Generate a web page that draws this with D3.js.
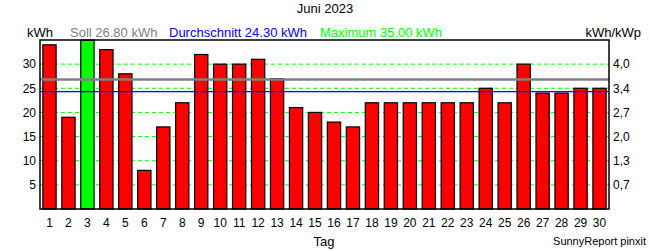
<!DOCTYPE html>
<html lang="de">
<head>
<meta charset="utf-8">
<title>Juni 2023</title>
<script src="https://d3js.org/d3.v7.min.js"></script>
<style>
  body { margin: 0; background: #fff; }
  text { font-family: "Liberation Sans", Arial, sans-serif; font-size: 12px; }
  .head { font-size: 13px; }
</style>
</head>
<body>
<script>
// data
var days = d3.range(1, 31);
var yields = [34, 19, 35, 33, 28, 8, 17, 22, 32, 30, 30, 31, 27, 21, 20, 18, 17, 22, 22, 22,
              22, 22, 22, 25, 22, 30, 24, 24, 25, 25];
var leftTicks = [5, 10, 15, 20, 25, 30];
var rightTickLabels = ["0,7", "1,3", "2,0", "2,7", "3,4", "4,0"];
var soll = 26.8, avg = 24.3, maxVal = 35;

var width = 650, height = 250,
    margin = {top: 40, right: 41, bottom: 41, left: 40},
    plotW = width - margin.left - margin.right,
    plotH = height - margin.top - margin.bottom;

var svg = d3.select("body").append("svg")
    .attr("width", width)
    .attr("height", height);

var x = d3.scaleBand()
    .domain(days)
    .range([margin.left, margin.left + plotW])
    .paddingInner(0.3)
    .paddingOuter(0.15);

var y = d3.scaleLinear()
    .domain([0, maxVal])
    .range([margin.top + plotH, margin.top]);

// title and header
svg.append("text").attr("class", "head").attr("x", 325).attr("y", 13).attr("text-anchor", "middle").text("Juni 2023");
svg.append("text").attr("class", "head").attr("x", 27).attr("y", 37).text("kWh");
svg.append("text").attr("class", "head").attr("x", 70).attr("y", 37).attr("fill", "#808080").text("Soll 26.80 kWh");
svg.append("text").attr("class", "head").attr("x", 169).attr("y", 37).attr("fill", "#0000ff").text("Durchschnitt 24.30 kWh");
svg.append("text").attr("class", "head").attr("x", 320).attr("y", 37).attr("fill", "#00ff00").text("Maximum 35.00 kWh");
svg.append("text").attr("class", "head").attr("x", 641).attr("y", 37).attr("text-anchor", "end").text("kWh/kWp");

// grid lines
svg.selectAll(".grid").data(leftTicks).enter().append("line")
    .attr("x1", margin.left).attr("x2", margin.left + plotW)
    .attr("y1", d => y(d)).attr("y2", d => y(d))
    .attr("stroke", "#00ff00").attr("stroke-width", 1)
    .attr("stroke-dasharray", "4,3");

// bars
svg.selectAll(".bar").data(yields).enter().append("rect")
    .attr("x", (d, i) => x(days[i]))
    .attr("y", d => y(d))
    .attr("width", x.bandwidth())
    .attr("height", d => y(0) - y(d))
    .attr("fill", d => d === maxVal ? "#00ff00" : "#ff0000")
    .attr("stroke", "#000").attr("stroke-width", 1.2);

// Soll and average lines
svg.append("line")
    .attr("x1", margin.left).attr("x2", margin.left + plotW)
    .attr("y1", y(soll)).attr("y2", y(soll))
    .attr("stroke", "#808080").attr("stroke-width", 2.5);
svg.append("line")
    .attr("x1", margin.left).attr("x2", margin.left + plotW)
    .attr("y1", y(avg)).attr("y2", y(avg))
    .attr("stroke", "#0000ff").attr("stroke-width", 1.2);

// frame
svg.append("rect")
    .attr("x", margin.left).attr("y", margin.top)
    .attr("width", plotW).attr("height", plotH)
    .attr("fill", "none").attr("stroke", "#000").attr("stroke-width", 1.5);

// axes
var leftAxis = svg.append("g")
    .attr("transform", "translate(" + margin.left + ",0)")
    .call(d3.axisLeft(y).tickValues(leftTicks).tickSize(0).tickPadding(4));
var rightAxis = svg.append("g")
    .attr("transform", "translate(" + (margin.left + plotW) + ",0)")
    .call(d3.axisRight(y).tickValues(leftTicks).tickSize(0).tickPadding(4)
        .tickFormat((d, i) => rightTickLabels[i]));
var bottomAxis = svg.append("g")
    .attr("transform", "translate(0," + (margin.top + plotH) + ")")
    .call(d3.axisBottom(x).tickSize(0).tickPadding(9));
[leftAxis, rightAxis, bottomAxis].forEach(function(g) {
  g.select(".domain").remove();
  g.selectAll("text").attr("font-size", 12.5)
    .attr("font-family", "'Liberation Sans', Arial, sans-serif").attr("fill", "#000");
});

svg.append("text").attr("x", 324).attr("y", 246).attr("text-anchor", "middle")
    .style("font-size", "13px").text("Tag");
svg.append("text").attr("x", 646).attr("y", 245).attr("text-anchor", "end")
    .style("font-size", "11px").text("SunnyReport pinxit");
</script>
</body>
</html>
